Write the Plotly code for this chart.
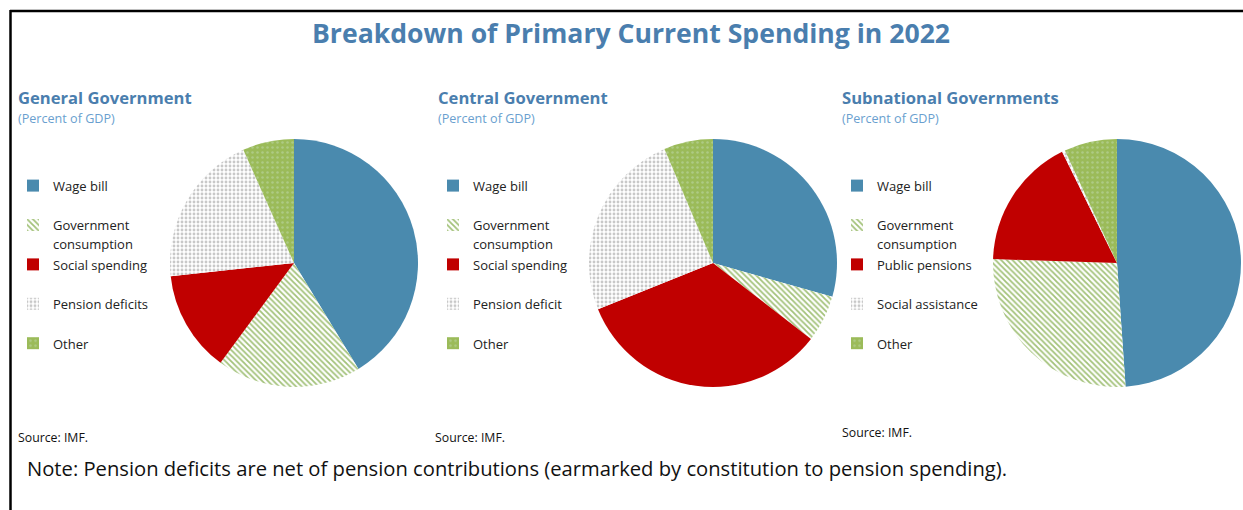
import plotly.graph_objects as go

W, H = 1243, 510

# ---- data (shares) ----
gen_labels = ["Wage bill", "Government<br>consumption", "Social spending", "Pension deficits", "Other"]
gen_values = [41.3, 18.8, 13.2, 20.0, 6.7]

cen_labels = ["Wage bill", "Government<br>consumption", "Social spending", "Pension deficit", "Other"]
cen_values = [29.4, 6.1, 33.4, 24.7, 6.4]

sub_labels = ["Wage bill", "Government<br>consumption", "Public pensions", "Social assistance", "Other"]
sub_values = [48.9, 26.6, 17.2, 0.4, 6.9]

panel_titles = ["General Government", "Central Government", "Subnational Governments"]

# ---- styles ----
BLUE = "#4a8aae"
RED = "#c00000"
GREEN = "#9bbb59"
TITLE_BLUE = "#4a7eae"
SUB_BLUE = "#6a9fcf"
FONT = "Open Sans"

slice_colors = [BLUE, "white", RED, "white", GREEN]
pat_shapes = ["", "\\", "", ".", "."]
pat_fg = [BLUE, "#a3c27a", RED, "#c8c8c8", "#aecb84"]
pat_bg = [BLUE, "white", RED, "white", GREEN]
pat_size = [6, 4, 6, 4, 5]
pat_sol = [0.3, 0.45, 0.3, 0.4, 0.2]

# distinct (but visually identical) span styles keep each pie's legend separate
span_styles = ["font-size:13px", "font-size:13.0px", "font-size:13.00px"]


def px(x):
    return x / W


def py(y):
    return 1 - y / H


def legend_label(lbl, k):
    # two-line entries give the wide spacing of the original legend
    txt = lbl if "<br>" in lbl else lbl + "<br>\u00a0"
    parts = txt.split("<br>")
    return "<br>".join("<span style='" + span_styles[k] + "'>" + p + "</span>" for p in parts)


fig = go.Figure()

pies = [
    (gen_labels, gen_values, (294, 263), "legend"),
    (cen_labels, cen_values, (713, 263), "legend2"),
    (sub_labels, sub_values, (1117, 263), "legend3"),
]
R = 124
for k, (labels, values, (cx, cy), lg) in enumerate(pies):
    fig.add_trace(go.Pie(
        labels=[legend_label(l, k) for l in labels],
        values=values,
        sort=False,
        direction="clockwise",
        rotation=0,
        textinfo="none",
        hole=0,
        domain=dict(x=[px(cx - R), px(cx + R)], y=[py(cy + R), py(cy - R)]),
        marker=dict(
            colors=slice_colors,
            line=dict(width=0, color="white"),
            pattern=dict(shape=pat_shapes, fgcolor=pat_fg, bgcolor=pat_bg,
                         size=pat_size, solidity=pat_sol, fillmode="replace"),
        ),
        legend=lg,
        showlegend=True,
    ))

legend_common = dict(
    font=dict(family=FONT, size=14.0, color="#222222"),
    bgcolor="rgba(0,0,0,0)",
    valign="top",
    yanchor="top",
    xanchor="left",
    tracegroupgap=0,
)

annotations = [
    dict(text="<b>Breakdown of Primary Current Spending in 2022</b>", x=px(631), y=py(33),
         xanchor="center", yanchor="middle", showarrow=False,
         font=dict(family=FONT, size=26.6, color=TITLE_BLUE)),
    dict(text="Note: Pension deficits are net of pension contributions (earmarked by constitution to pension spending).",
         x=px(25), y=py(468), xanchor="left", yanchor="middle", showarrow=False,
         font=dict(family=FONT, size=20.2, color="#111111")),
]
title_x = [18, 438, 842]
source_pos = [(18, 437), (435, 437), (842, 432)]
for t, tx, (sx, sy) in zip(panel_titles, title_x, source_pos):
    annotations.append(dict(text="<b>" + t + "</b>", x=px(tx - 2), y=py(98), xanchor="left", yanchor="middle",
                            showarrow=False, font=dict(family=FONT, size=16.6, color=TITLE_BLUE)))
    annotations.append(dict(text="(Percent of GDP)", x=px(tx - 2), y=py(118), xanchor="left", yanchor="middle",
                            showarrow=False, font=dict(family=FONT, size=12.6, color=SUB_BLUE)))
    annotations.append(dict(text="Source: IMF.", x=px(sx - 2), y=py(sy), xanchor="left", yanchor="middle",
                            showarrow=False, font=dict(family=FONT, size=12.3, color="#111111")))

shapes = [
    dict(type="line", xref="paper", yref="paper", x0=px(10), x1=1, y0=py(11), y1=py(11),
         line=dict(color="black", width=2.5)),
    dict(type="line", xref="paper", yref="paper", x0=px(10.5), x1=px(10.5), y0=py(10), y1=0,
         line=dict(color="black", width=2.5)),
]

fig.update_layout(
    width=W, height=H,
    margin=dict(l=0, r=0, t=0, b=0),
    paper_bgcolor="white",
    plot_bgcolor="white",
    font=dict(family=FONT),
    annotations=annotations,
    shapes=shapes,
    legend=dict(x=px(13), y=py(170), **legend_common),
    legend2=dict(x=px(433), y=py(170), **legend_common),
    legend3=dict(x=px(837), y=py(170), **legend_common),
)

fig.write_html("out.html",
               config={"displayModeBar": False},
               post_script="document.body.style.margin='0';document.body.style.overflow='hidden';")
